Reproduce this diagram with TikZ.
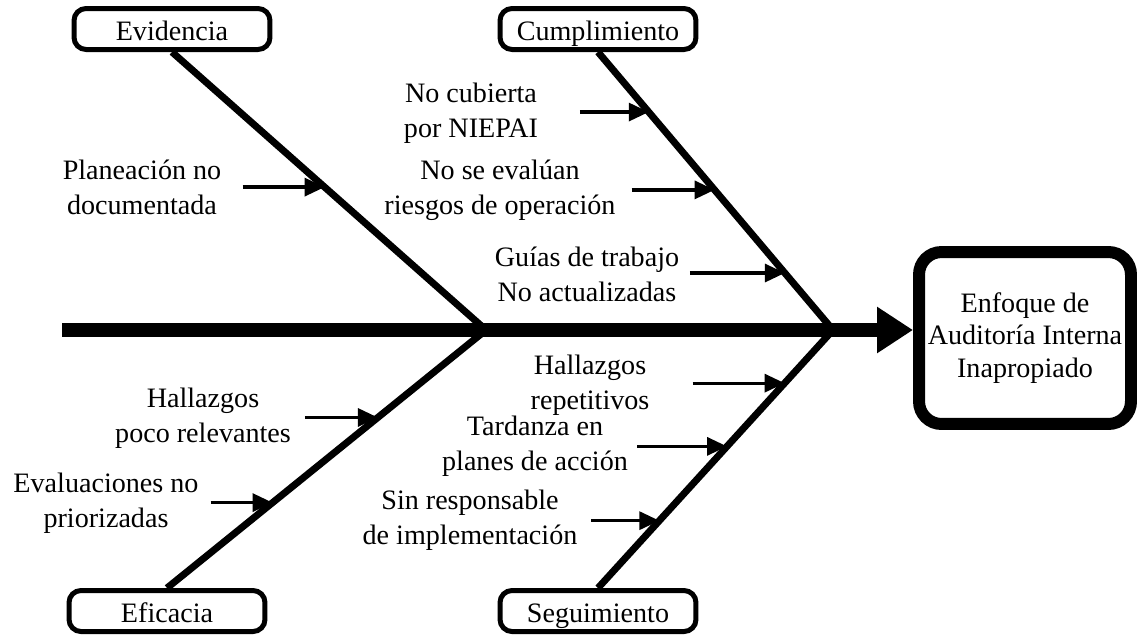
\documentclass[tikz,border=0pt]{standalone}
\usepackage{fontspec}
\setmainfont{Liberation Serif}
\usepackage{tikz}
\usetikzlibrary{arrows.meta,calc}

\tikzset{
  catbox/.style={draw, line width=0.1cm, rounded corners=0.24cm,
    minimum width=3.92cm, minimum height=0.82cm, inner sep=0pt,
    text height=13.6pt, text depth=1pt},
  effectbox/.style={draw, line width=0.24cm, rounded corners=0.45cm,
    minimum width=4.24cm, minimum height=3.44cm, align=center,
    font=\fontsize{16}{18.7}\selectfont},
  cause/.style={align=center},
  spine/.style={line width=0.28cm, -{Triangle[length=0.72cm,width=0.88cm]}},
  bone/.style={line width=0.14cm},
  causearrow/.style={line width=0.066cm, -{Triangle[length=0.4cm,width=0.36cm]}}
}

\begin{document}
\begin{tikzpicture}[x=0.02cm, y=-0.02cm, font=\fontsize{16}{19.8}\selectfont]
  \useasboundingbox (0,0) rectangle (1138,640);

  % effect and main spine
  \node[effectbox] (effect) at (1025,338) {Enfoque de\\Auditoría Interna\\Inapropiado};
  \coordinate (tail) at (62,330);
  \coordinate (jL) at (486,330);
  \coordinate (jR) at (833,330);
  \draw[spine] (tail) -- (tail -| effect.west);

  % categories
  \node[catbox] (ev) at (172,29) {Evidencia};
  \node[catbox] (cu) at (598,29) {Cumplimiento};
  \node[catbox] (ef) at (167,611) {Eficacia};
  \node[catbox] (seg) at (598,611) {Seguimiento};

  \draw[bone] (ev.south) -- (jL);
  \draw[bone] (ef.north) -- (jL);
  \draw[bone] (cu.south) -- (jR);
  \draw[bone] (seg.north) -- (jR);

  % Evidencia
  \coordinate (e1) at ($(ev.south)!0.486!(jL)$);
  \node[cause] (plan) at (142,187) {Planeación no\\documentada};
  \draw[causearrow] ($(e1)+(-82,0)$) -- (e1);

  % Cumplimiento
  \coordinate (c1) at ($(cu.south)!0.216!(jR)$);
  \coordinate (c2) at ($(cu.south)!0.496!(jR)$);
  \coordinate (c3) at ($(cu.south)!0.795!(jR)$);
  \node[cause] (niepai) at (471,113) {No cubierta\\por NIEPAI};
  \node[cause] (riesgos) at (500,190) {No se evalúan\\riesgos de operación};
  \node[cause] (guias) at (587,274) {Guías de trabajo\\No actualizadas};
  \draw[causearrow] ($(c1)+(-69,0)$) -- (c1);
  \draw[causearrow] ($(c2)+(-83,0)$) -- (c2);
  \draw[causearrow] ($(c3)+(-95,0)$) -- (c3);

  % Eficacia
  \coordinate (f1) at ($(ef.north)!0.661!(jL)$);
  \coordinate (f2) at ($(ef.north)!0.331!(jL)$);
  \node[cause] (relev) at (203,418) {Hallazgos\\poco relevantes};
  \node[cause] (prior) at (106,503) {Evaluaciones no\\priorizadas};
  \draw[causearrow] ($(f1)+(-73,0)$) -- (f1);
  \draw[causearrow] ($(f2)+(-62,0)$) -- (f2);

  % Seguimiento
  \coordinate (s1) at ($(seg.north)!0.794!(jR)$);
  \coordinate (s2) at ($(seg.north)!0.549!(jR)$);
  \coordinate (s3) at ($(seg.north)!0.261!(jR)$);
  \node[cause] (repet) at (590,385) {Hallazgos\\repetitivos};
  \node[cause] (tard) at (535,446) {Tardanza en\\planes de acción};
  \node[cause] (resp) at (470,520) {Sin responsable\\de implementación};
  \draw[causearrow] ($(s1)+(-92,0)$) -- (s1);
  \draw[causearrow] ($(s2)+(-90,0)$) -- (s2);
  \draw[causearrow] ($(s3)+(-68,0)$) -- (s3);
\end{tikzpicture}
\end{document}
